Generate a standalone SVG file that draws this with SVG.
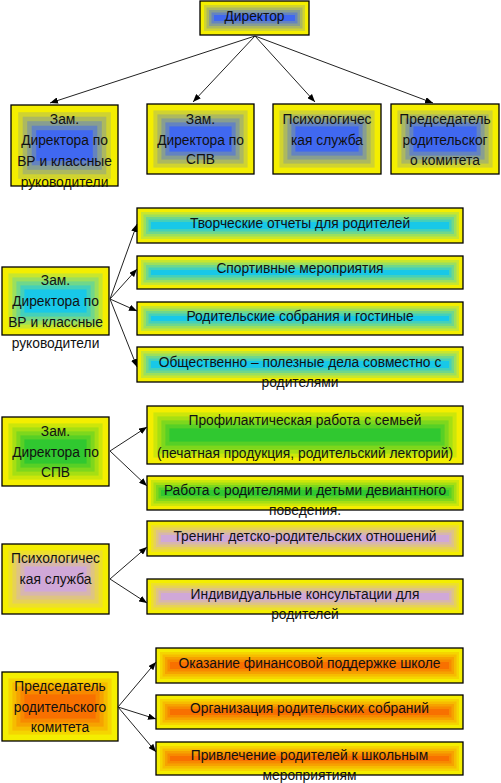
<svg xmlns="http://www.w3.org/2000/svg" xmlns:xlink="http://www.w3.org/1999/xlink" width="501" height="783" viewBox="0 0 501 783">
<style>
.k1,.k2,.k3,.k4,.k5{fill:none}
.k1{stroke-width:calc(var(--u,1)*8px);stroke:#f4ee00}
.k2{stroke-width:calc(var(--u,1)*13px)}
.k3{stroke-width:calc(var(--u,1)*18px)}
.k4{stroke-width:calc(var(--u,1)*23px)}
.k5{stroke-width:calc(var(--u,1)*28px)}
.big{--u:1.6}
.core{stroke:none}
.blue .core{fill:#4068f0}.blue .k5{stroke:#6483c0}.blue .k4{stroke:#889e90}.blue .k3{stroke:#acb860}.blue .k2{stroke:#d0d330}
.cyan .core{fill:#18c8e8}.cyan .k5{stroke:#44d0ba}.cyan .k4{stroke:#70d78b}.cyan .k3{stroke:#9cdf5d}.cyan .k2{stroke:#c8e62e}
.green .core{fill:#30c830}.green .k5{stroke:#57d026}.green .k4{stroke:#7ed71d}.green .k3{stroke:#a6df13}.green .k2{stroke:#cde60a}
.lilac .core{fill:#d0a8d8}.lilac .k5{stroke:#d7b6ad}.lilac .k4{stroke:#dec482}.lilac .k3{stroke:#e6d256}.lilac .k2{stroke:#ede02b}
.orange .core{fill:#f87000}.orange .k5{stroke:#f78900}.orange .k4{stroke:#f6a200}.orange .k3{stroke:#f6bc00}.orange .k2{stroke:#f5d500}
.outline{fill:none;stroke:#000;stroke-width:1.3}
text{font-family:"Liberation Sans",Arial,sans-serif;font-size:13.8px;fill:#111;text-anchor:middle}
.conn line{stroke:#222;stroke-width:1;marker-end:url(#ah)}
</style>
<defs>
<marker id="ah" viewBox="0 0 10 8" refX="10" refY="4" markerWidth="8" markerHeight="6.4" markerUnits="userSpaceOnUse" orient="auto"><path d="M0,0L10,4L0,8z" fill="#000"/></marker>
<rect id="r0" x="200" y="1" width="109" height="34"/>
<rect id="r1" x="11" y="105" width="107" height="81"/>
<rect id="r2" x="147" y="104" width="107" height="70"/>
<rect id="r3" x="273" y="104" width="108" height="70"/>
<rect id="r4" x="391" y="104" width="108" height="70"/>
<rect id="r5" x="2" y="267" width="107" height="68"/>
<rect id="r6" x="137" y="208" width="326" height="35"/>
<rect id="r7" x="137" y="256" width="326" height="33"/>
<rect id="r8" x="137" y="302" width="326" height="33"/>
<rect id="r9" x="137" y="347" width="326" height="35"/>
<rect id="r10" x="2" y="417" width="107" height="69"/>
<rect id="r11" x="147" y="406" width="316" height="58"/>
<rect id="r12" x="147" y="476" width="316" height="34"/>
<rect id="r13" x="2" y="544" width="107" height="70"/>
<rect id="r14" x="147" y="521" width="316" height="35"/>
<rect id="r15" x="147" y="579" width="316" height="35"/>
<rect id="r16" x="2" y="672" width="116" height="69"/>
<rect id="r17" x="156" y="648" width="307" height="35"/>
<rect id="r18" x="156" y="695" width="307" height="34"/>
<rect id="r19" x="156" y="742" width="307" height="33"/>
<clipPath id="c0"><use xlink:href="#r0"/></clipPath>
<clipPath id="c1"><use xlink:href="#r1"/></clipPath>
<clipPath id="c2"><use xlink:href="#r2"/></clipPath>
<clipPath id="c3"><use xlink:href="#r3"/></clipPath>
<clipPath id="c4"><use xlink:href="#r4"/></clipPath>
<clipPath id="c5"><use xlink:href="#r5"/></clipPath>
<clipPath id="c6"><use xlink:href="#r6"/></clipPath>
<clipPath id="c7"><use xlink:href="#r7"/></clipPath>
<clipPath id="c8"><use xlink:href="#r8"/></clipPath>
<clipPath id="c9"><use xlink:href="#r9"/></clipPath>
<clipPath id="c10"><use xlink:href="#r10"/></clipPath>
<clipPath id="c11"><use xlink:href="#r11"/></clipPath>
<clipPath id="c12"><use xlink:href="#r12"/></clipPath>
<clipPath id="c13"><use xlink:href="#r13"/></clipPath>
<clipPath id="c14"><use xlink:href="#r14"/></clipPath>
<clipPath id="c15"><use xlink:href="#r15"/></clipPath>
<clipPath id="c16"><use xlink:href="#r16"/></clipPath>
<clipPath id="c17"><use xlink:href="#r17"/></clipPath>
<clipPath id="c18"><use xlink:href="#r18"/></clipPath>
<clipPath id="c19"><use xlink:href="#r19"/></clipPath>
</defs>
<rect width="501" height="783" fill="#fff"/>

<g id="director">
<g clip-path="url(#c0)" class="blue"><use xlink:href="#r0" class="core"/><use xlink:href="#r0" class="k5"/><use xlink:href="#r0" class="k4"/><use xlink:href="#r0" class="k3"/><use xlink:href="#r0" class="k2"/><use xlink:href="#r0" class="k1"/></g>
<use xlink:href="#r0" class="outline"/>
<text x="254.5" y="21">Директор</text>
</g>

<g id="top-vr">
<g clip-path="url(#c1)" class="blue" style="--u:1.8"><use xlink:href="#r1" class="core"/><use xlink:href="#r1" class="k5"/><use xlink:href="#r1" class="k4"/><use xlink:href="#r1" class="k3"/><use xlink:href="#r1" class="k2"/><use xlink:href="#r1" class="k1"/></g>
<use xlink:href="#r1" class="outline"/>
<text x="64.5" y="124">Зам.</text><text x="64.5" y="145">Директора по</text><text x="64.5" y="166">ВР и классные</text><text x="64.5" y="187">руководители</text>
</g>

<g id="top-spv">
<g clip-path="url(#c2)" class="blue big"><use xlink:href="#r2" class="core"/><use xlink:href="#r2" class="k5"/><use xlink:href="#r2" class="k4"/><use xlink:href="#r2" class="k3"/><use xlink:href="#r2" class="k2"/><use xlink:href="#r2" class="k1"/></g>
<use xlink:href="#r2" class="outline"/>
<text x="200.5" y="124">Зам.</text><text x="200.5" y="145">Директора по</text><text x="200.5" y="164">СПВ</text>
</g>

<g id="top-psy">
<g clip-path="url(#c3)" class="blue big"><use xlink:href="#r3" class="core"/><use xlink:href="#r3" class="k5"/><use xlink:href="#r3" class="k4"/><use xlink:href="#r3" class="k3"/><use xlink:href="#r3" class="k2"/><use xlink:href="#r3" class="k1"/></g>
<use xlink:href="#r3" class="outline"/>
<text x="327" y="124">Психологичес</text><text x="327" y="145">кая служба</text>
</g>

<g id="top-com">
<g clip-path="url(#c4)" class="blue big"><use xlink:href="#r4" class="core"/><use xlink:href="#r4" class="k5"/><use xlink:href="#r4" class="k4"/><use xlink:href="#r4" class="k3"/><use xlink:href="#r4" class="k2"/><use xlink:href="#r4" class="k1"/></g>
<use xlink:href="#r4" class="outline"/>
<text x="445" y="124">Председатель</text><text x="445" y="145">родительског</text><text x="445" y="165">о комитета</text>
</g>

<g id="vr">
<g clip-path="url(#c5)" class="cyan big"><use xlink:href="#r5" class="core"/><use xlink:href="#r5" class="k5"/><use xlink:href="#r5" class="k4"/><use xlink:href="#r5" class="k3"/><use xlink:href="#r5" class="k2"/><use xlink:href="#r5" class="k1"/></g>
<use xlink:href="#r5" class="outline"/>
<text x="55.5" y="285">Зам.</text><text x="55.5" y="306">Директора по</text><text x="55.5" y="327">ВР и классные</text><text x="55.5" y="348">руководители</text>
</g>

<g id="vr-1">
<g clip-path="url(#c6)" class="cyan"><use xlink:href="#r6" class="core"/><use xlink:href="#r6" class="k5"/><use xlink:href="#r6" class="k4"/><use xlink:href="#r6" class="k3"/><use xlink:href="#r6" class="k2"/><use xlink:href="#r6" class="k1"/></g>
<use xlink:href="#r6" class="outline"/>
<text x="300" y="228">Творческие отчеты для родителей</text>
</g>

<g id="vr-2">
<g clip-path="url(#c7)" class="cyan"><use xlink:href="#r7" class="core"/><use xlink:href="#r7" class="k5"/><use xlink:href="#r7" class="k4"/><use xlink:href="#r7" class="k3"/><use xlink:href="#r7" class="k2"/><use xlink:href="#r7" class="k1"/></g>
<use xlink:href="#r7" class="outline"/>
<text x="300" y="273">Спортивные мероприятия</text>
</g>

<g id="vr-3">
<g clip-path="url(#c8)" class="cyan"><use xlink:href="#r8" class="core"/><use xlink:href="#r8" class="k5"/><use xlink:href="#r8" class="k4"/><use xlink:href="#r8" class="k3"/><use xlink:href="#r8" class="k2"/><use xlink:href="#r8" class="k1"/></g>
<use xlink:href="#r8" class="outline"/>
<text x="300" y="321">Родительские собрания и гостиные</text>
</g>

<g id="vr-4">
<g clip-path="url(#c9)" class="cyan"><use xlink:href="#r9" class="core"/><use xlink:href="#r9" class="k5"/><use xlink:href="#r9" class="k4"/><use xlink:href="#r9" class="k3"/><use xlink:href="#r9" class="k2"/><use xlink:href="#r9" class="k1"/></g>
<use xlink:href="#r9" class="outline"/>
<text x="300" y="367">Общественно – полезные дела совместно с</text><text x="300" y="387">родителями</text>
</g>

<g id="spv">
<g clip-path="url(#c10)" class="green big"><use xlink:href="#r10" class="core"/><use xlink:href="#r10" class="k5"/><use xlink:href="#r10" class="k4"/><use xlink:href="#r10" class="k3"/><use xlink:href="#r10" class="k2"/><use xlink:href="#r10" class="k1"/></g>
<use xlink:href="#r10" class="outline"/>
<text x="55.5" y="436">Зам.</text><text x="55.5" y="457">Директора по</text><text x="55.5" y="477">СПВ</text>
</g>

<g id="spv-1">
<g clip-path="url(#c11)" class="green big"><use xlink:href="#r11" class="core"/><use xlink:href="#r11" class="k5"/><use xlink:href="#r11" class="k4"/><use xlink:href="#r11" class="k3"/><use xlink:href="#r11" class="k2"/><use xlink:href="#r11" class="k1"/></g>
<use xlink:href="#r11" class="outline"/>
<text x="305" y="425">Профилактическая работа с семьей</text><text x="305" y="458">(печатная продукция, родительский лекторий)</text>
</g>

<g id="spv-2">
<g clip-path="url(#c12)" class="green"><use xlink:href="#r12" class="core"/><use xlink:href="#r12" class="k5"/><use xlink:href="#r12" class="k4"/><use xlink:href="#r12" class="k3"/><use xlink:href="#r12" class="k2"/><use xlink:href="#r12" class="k1"/></g>
<use xlink:href="#r12" class="outline"/>
<text x="305" y="495">Работа с родителями и детьми девиантного</text><text x="305" y="515">поведения.</text>
</g>

<g id="psy">
<g clip-path="url(#c13)" class="lilac big"><use xlink:href="#r13" class="core"/><use xlink:href="#r13" class="k5"/><use xlink:href="#r13" class="k4"/><use xlink:href="#r13" class="k3"/><use xlink:href="#r13" class="k2"/><use xlink:href="#r13" class="k1"/></g>
<use xlink:href="#r13" class="outline"/>
<text x="55.5" y="563">Психологичес</text><text x="55.5" y="584">кая служба</text>
</g>

<g id="psy-1">
<g clip-path="url(#c14)" class="lilac"><use xlink:href="#r14" class="core"/><use xlink:href="#r14" class="k5"/><use xlink:href="#r14" class="k4"/><use xlink:href="#r14" class="k3"/><use xlink:href="#r14" class="k2"/><use xlink:href="#r14" class="k1"/></g>
<use xlink:href="#r14" class="outline"/>
<text x="305" y="541">Тренинг детско-родительских отношений</text>
</g>

<g id="psy-2">
<g clip-path="url(#c15)" class="lilac"><use xlink:href="#r15" class="core"/><use xlink:href="#r15" class="k5"/><use xlink:href="#r15" class="k4"/><use xlink:href="#r15" class="k3"/><use xlink:href="#r15" class="k2"/><use xlink:href="#r15" class="k1"/></g>
<use xlink:href="#r15" class="outline"/>
<text x="305" y="599">Индивидуальные консультации для</text><text x="305" y="619">родителей</text>
</g>

<g id="com">
<g clip-path="url(#c16)" class="orange big"><use xlink:href="#r16" class="core"/><use xlink:href="#r16" class="k5"/><use xlink:href="#r16" class="k4"/><use xlink:href="#r16" class="k3"/><use xlink:href="#r16" class="k2"/><use xlink:href="#r16" class="k1"/></g>
<use xlink:href="#r16" class="outline"/>
<text x="60" y="691">Председатель</text><text x="60" y="712">родительского</text><text x="60" y="732">комитета</text>
</g>

<g id="com-1">
<g clip-path="url(#c17)" class="orange"><use xlink:href="#r17" class="core"/><use xlink:href="#r17" class="k5"/><use xlink:href="#r17" class="k4"/><use xlink:href="#r17" class="k3"/><use xlink:href="#r17" class="k2"/><use xlink:href="#r17" class="k1"/></g>
<use xlink:href="#r17" class="outline"/>
<text x="309.5" y="668">Оказание финансовой поддержке школе</text>
</g>

<g id="com-2">
<g clip-path="url(#c18)" class="orange"><use xlink:href="#r18" class="core"/><use xlink:href="#r18" class="k5"/><use xlink:href="#r18" class="k4"/><use xlink:href="#r18" class="k3"/><use xlink:href="#r18" class="k2"/><use xlink:href="#r18" class="k1"/></g>
<use xlink:href="#r18" class="outline"/>
<text x="309.5" y="713">Организация родительских собраний</text>
</g>

<g id="com-3">
<g clip-path="url(#c19)" class="orange"><use xlink:href="#r19" class="core"/><use xlink:href="#r19" class="k5"/><use xlink:href="#r19" class="k4"/><use xlink:href="#r19" class="k3"/><use xlink:href="#r19" class="k2"/><use xlink:href="#r19" class="k1"/></g>
<use xlink:href="#r19" class="outline"/>
<text x="309.5" y="760">Привлечение родителей к школьным</text><text x="309.5" y="780">мероприятиям</text>
</g>

<g id="connectors" class="conn">
<line x1="255" y1="36" x2="50" y2="103"/>
<line x1="255" y1="36" x2="193" y2="102"/>
<line x1="255" y1="36" x2="315" y2="102"/>
<line x1="255" y1="36" x2="433" y2="103"/>
<line x1="110" y1="299" x2="137" y2="224"/>
<line x1="110" y1="299" x2="137" y2="269"/>
<line x1="110" y1="299" x2="137" y2="311"/>
<line x1="110" y1="299" x2="137" y2="367"/>
<line x1="110" y1="451" x2="147" y2="427"/>
<line x1="110" y1="451" x2="147" y2="486"/>
<line x1="110" y1="579" x2="147" y2="547"/>
<line x1="110" y1="579" x2="147" y2="603"/>
<line x1="118" y1="707" x2="156" y2="662"/>
<line x1="118" y1="707" x2="156" y2="719"/>
<line x1="118" y1="707" x2="156" y2="752"/>
</g>
</svg>
